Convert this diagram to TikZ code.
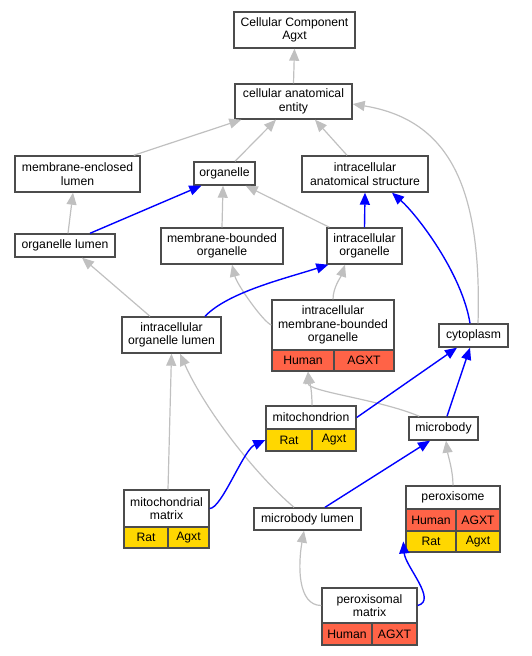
\documentclass[tikz,border=0pt]{standalone}
\usepackage{fontspec}
\setmainfont{Liberation Sans}
\usetikzlibrary{arrows.meta}
\definecolor{tomato}{HTML}{FF6347}
\definecolor{gold}{HTML}{FFD700}
\definecolor{isagray}{HTML}{C0C0C0}

\begin{document}
\begin{tikzpicture}[x=1pt, y=-1pt, >={Triangle[length=12pt,width=10pt]},
    term/.style={draw=black!70, line width=1.4pt, fill=white, inner sep=0pt, align=center,
        font=\fontsize{12.2}{13.5}\selectfont},
    human/.style={term, fill=tomato},
    rat/.style={term, fill=gold},
    isa/.style={->, isagray, line width=1.2pt},
    partof/.style={->, blue, line width=1.4pt}]
    \useasboundingbox (0,0) rectangle (532,656);

    % Define terms
    \node[term, minimum width=121pt, minimum height=36pt] (cc) at (294.5,30) {Cellular Component\\Agxt};
    \node[term, minimum width=117pt, minimum height=35pt] (cae) at (293.5,101.5) {cellular anatomical\\entity};
    \node[term, minimum width=125pt, minimum height=36pt] (mel) at (77.5,174) {membrane-enclosed\\lumen};
    \node[term, minimum width=61pt, minimum height=23pt] (org) at (224.5,173.5) {organelle};
    \node[term, minimum width=126pt, minimum height=36pt] (ias) at (365,174) {intracellular\\anatomical structure};
    \node[term, minimum width=100pt, minimum height=23pt] (ol) at (65,245.5) {organelle lumen};
    \node[term, minimum width=122pt, minimum height=36pt] (mbo) at (222,246) {membrane-bounded\\organelle};
    \node[term, minimum width=75pt, minimum height=36pt] (io) at (364.5,246) {intracellular\\organelle};
    \node[term, minimum width=99pt, minimum height=36pt] (iol) at (171.5,335) {intracellular\\organelle lumen};
    \node[term, minimum width=122pt, minimum height=50pt] (imbo) at (333,325) {intracellular\\membrane-bounded\\organelle};
    \node[human, minimum width=62pt, minimum height=21pt] (imboH) at (303,360.5) {Human};
    \node[human, minimum width=60pt, minimum height=21pt] (imboA) at (364,360.5) {AGXT};
    \node[term, minimum width=69pt, minimum height=23pt] (cyto) at (473.5,335.5) {cytoplasm};
    \node[term, minimum width=90pt, minimum height=23pt] (mito) at (311,417.5) {mitochondrion};
    \node[rat, minimum width=46pt, minimum height=22pt] (mitoR) at (289,440) {Rat};
    \node[rat, minimum width=44pt, minimum height=22pt] (mitoA) at (334,440) {Agxt};
    \node[term, minimum width=69pt, minimum height=23pt] (mb) at (443.5,428.5) {microbody};
    \node[term, minimum width=85pt, minimum height=37pt] (mm) at (166.5,508.5) {mitochondrial\\matrix};
    \node[rat, minimum width=44pt, minimum height=21pt] (mmR) at (146,537.5) {Rat};
    \node[rat, minimum width=41pt, minimum height=21pt] (mmA) at (188.5,537.5) {Agxt};
    \node[term, minimum width=107pt, minimum height=22pt] (mbl) at (307.5,519) {microbody lumen};
    \node[term, minimum width=94pt, minimum height=23pt] (perox) at (453,497.5) {peroxisome};
    \node[human, minimum width=50pt, minimum height=22pt] (peroxH) at (431,520) {Human};
    \node[human, minimum width=44pt, minimum height=22pt] (peroxA) at (478,520) {AGXT};
    \node[rat, minimum width=50pt, minimum height=21pt] (peroxR) at (431,541.5) {Rat};
    \node[rat, minimum width=44pt, minimum height=21pt] (peroxRA) at (478,541.5) {Agxt};
    \node[term, minimum width=95pt, minimum height=35pt] (pm) at (369.5,605.5) {peroxisomal\\matrix};
    \node[human, minimum width=50pt, minimum height=22pt] (pmH) at (347,634) {Human};
    \node[human, minimum width=45pt, minimum height=22pt] (pmA) at (394.5,634) {AGXT};

    % is_a edges
    \draw[isa] (cae.north) -- (cc.south);
    \draw[isa] ([xshift=-7pt]mel.north east) -- ([xshift=7pt]cae.south west);
    \draw[isa] ([xshift=10.5pt]org.north) -- ([xshift=-17.5pt]cae.south);
    \draw[isa] ([xshift=-18pt]ias.north) -- ([xshift=21.5pt]cae.south);
    \draw[isa] ([xshift=4.5pt]cyto.north) .. controls +(4,-134) and +(98,16) .. ([yshift=-2.5pt]cae.east);
    \draw[isa] ([xshift=3pt]ol.north) -- ([xshift=-4.5pt]mel.south);
    \draw[isa] (mbo.north) -- ([xshift=-1.5pt]org.south);
    \draw[isa] ([xshift=3pt]io.north west) -- ([xshift=-10pt]org.south east);
    \draw[isa] ([xshift=-21.5pt]iol.north) -- ([xshift=17pt]ol.south);
    \draw[isa] (imbo.west) .. controls +(-8,-3) and +(5,20) .. ([xshift=10pt]mbo.south);
    \draw[isa] (imbo.north) .. controls +(0,-12) and +(-4,12) .. ([xshift=-19.5pt]io.south);
    \draw[isa] ([xshift=1.5pt]mm.north) -- (iol.south);
    \draw[isa] ([xshift=-13.5pt]mbl.north) .. controls +(-39,-33) and +(25,56) .. ([xshift=8.5pt]iol.south);
    \draw[isa] ([xshift=1pt]mito.north) .. controls +(0,-15) and +(2,12) .. ([xshift=5pt]imboH.south);
    \draw[isa] ([xshift=11pt]mb.north west) .. controls +(-40,-17) and +(0,20) .. ([xshift=5pt]imboH.south);
    \draw[isa] (perox.north) .. controls +(0,-15) and +(2,15) .. ([xshift=2.5pt]mb.south);
    \draw[isa] (pm.west) .. controls +(-24,0) and +(-6,34) .. ([xshift=-3.5pt]mbl.south);

    % part_of edges
    \draw[partof] ([xshift=25pt]ol.north) -- ([xshift=8pt]org.south west);
    \draw[partof] ([xshift=33.5pt]iol.north) .. controls +(23,-24) and +(-44,14) .. ([xshift=2pt]io.south west);
    \draw[partof] (io.north) -- (ias.south);
    \draw[partof] ([xshift=-3.5pt]cyto.north) .. controls +(-8,-50) and +(25,22) .. ([xshift=27pt]ias.south);
    \draw[partof] (mito.east) -- ([xshift=-16.5pt]cyto.south);
    \draw[partof] ([xshift=3.5pt]mb.north) -- ([xshift=-3.5pt]cyto.south);
    \draw[partof] (mm.east) .. controls +(12,0) and +(-22,10) .. (mitoR.west);
    \draw[partof] ([xshift=17.5pt]mbl.north) -- ([xshift=-13.5pt]mb.south);
    \draw[partof] (pm.east) .. controls +(20,-5) and +(2,25) .. ([xshift=-2pt]peroxR.west);
\end{tikzpicture}
\end{document}
